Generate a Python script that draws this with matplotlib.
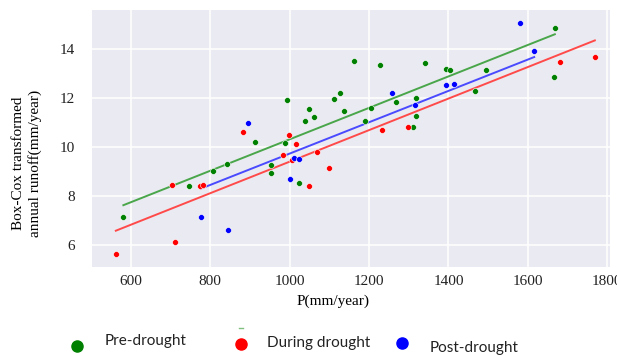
import matplotlib
matplotlib.use("Agg")
import matplotlib.pyplot as plt
import numpy as np
from matplotlib.lines import Line2D

# ---- data ----
pre_p = [581, 746, 806.5, 841.8, 913, 954, 954, 988.9, 994, 1024, 1039, 1049, 1062,
         1110.6, 1126.5, 1136.5, 1162.7, 1190.4, 1206, 1228, 1267.5, 1309.6, 1317, 1317,
         1340.6, 1395, 1404.5, 1467.5, 1495, 1665.5, 1668]
pre_r = [7.12, 8.42, 9.00, 9.28, 10.21, 9.27, 8.93, 10.16, 11.90, 8.51, 11.04, 11.55, 11.23,
         11.97, 12.20, 11.47, 13.50, 11.04, 11.57, 13.32, 11.81, 10.80, 12.00, 11.26,
         13.42, 13.19, 13.12, 12.26, 13.15, 12.84, 14.85]

dur_p = [562, 702.5, 710.8, 775, 781, 883, 982, 999, 1005, 1015.6, 1047.6, 1070, 1099.7,
         1232, 1297, 1680, 1768.8]
dur_r = [5.61, 8.46, 6.10, 8.42, 8.45, 10.62, 9.65, 10.50, 9.45, 10.12, 8.42, 9.77, 9.14,
         10.69, 10.82, 13.47, 13.66]

post_p = [776.3, 843.6, 894.7, 1002, 1010, 1024, 1257.4, 1315, 1394.4, 1412.8, 1581, 1616]
post_r = [7.15, 6.60, 10.98, 8.69, 9.55, 9.50, 12.20, 11.70, 12.51, 12.58, 15.07, 13.92]

# fitted lines (slope, intercept)
pre_fit = (0.006412, 3.895)
dur_fit = (0.00643, 2.966)
post_fit = (0.00639, 3.335)

labels = ["Pre-drought", "During drought", "Post-drought"]
x_ticks = [600, 800, 1000, 1200, 1400, 1600, 1800]
y_ticks = [6, 8, 10, 12, 14]

W, H = 617, 356
fig = plt.figure(figsize=(W / 100, H / 100), dpi=100)
fig.patch.set_facecolor("white")
ax = fig.add_axes([92 / W, (H - 267) / H, 518 / W, 257 / H])
ax.set_facecolor("#EAEAF2")
for s in ax.spines.values():
    s.set_visible(False)
ax.grid(True, color="white", linewidth=1.1)
ax.set_axisbelow(True)
ax.set_xlim(502, 1807)
ax.set_ylim(5.1, 15.58)
ax.set_xticks(x_ticks)
ax.set_yticks(y_ticks)
ax.tick_params(axis="x", length=0, pad=6)
ax.tick_params(axis="y", length=0, pad=12)
serif = "Liberation Serif"
for lab in ax.get_xticklabels() + ax.get_yticklabels():
    lab.set_family(serif)
    lab.set_fontsize(11)
    lab.set_color("#222222")

groups = [
    (pre_p, pre_r, pre_fit, "green", "#4aa64a"),
    (dur_p, dur_r, dur_fit, "#ff0000", "#ff4a4a"),
    (post_p, post_r, post_fit, "#0000ff", "#4a4aff"),
]
for px, pr, (m, b), pc, lc in groups:
    xs = np.array([min(px), max(px)])
    ax.plot(xs, m * xs + b, color=lc, lw=1.4, zorder=2)
for px, pr, (m, b), pc, lc in groups:
    ax.scatter(px, pr, s=18, color=pc, edgecolors="white", linewidths=0.4, zorder=3)

ax.set_xlabel("P(mm/year)", family=serif, fontsize=11, va="center")
ax.xaxis.set_label_coords((333 - 92) / 518, (267 - 301) / 257)
ax.set_ylabel("Box-Cox transformed\nannual runoff(mm/year)", family=serif, fontsize=11,
              linespacing=1.25, va="center")
ax.yaxis.set_label_coords((27 - 92) / 518, (267 - 163) / 257)

# custom legend below the chart
mk_x = [77, 241, 402]
mk_y = [346, 344, 343]
tx_x = [105, 267, 430]
tx_y = [341, 343, 348]
cols = ["green", "#ff0000", "#0000ff"]
for i in range(3):
    fig.add_artist(Line2D([mk_x[i] / W], [1 - mk_y[i] / H], marker="o", markersize=8,
                          color=cols[i], linestyle="none", transform=fig.transFigure))
    fig.text(tx_x[i] / W, 1 - tx_y[i] / H, labels[i], family="Lato", fontsize=11,
             va="center", ha="left", color="#222222")
fig.add_artist(Line2D([239 / W, 243 / W], [1 - 328 / H, 1 - 328 / H], color="#7fc07f",
                      lw=1, transform=fig.transFigure))

fig.savefig("out.png", dpi=100)
